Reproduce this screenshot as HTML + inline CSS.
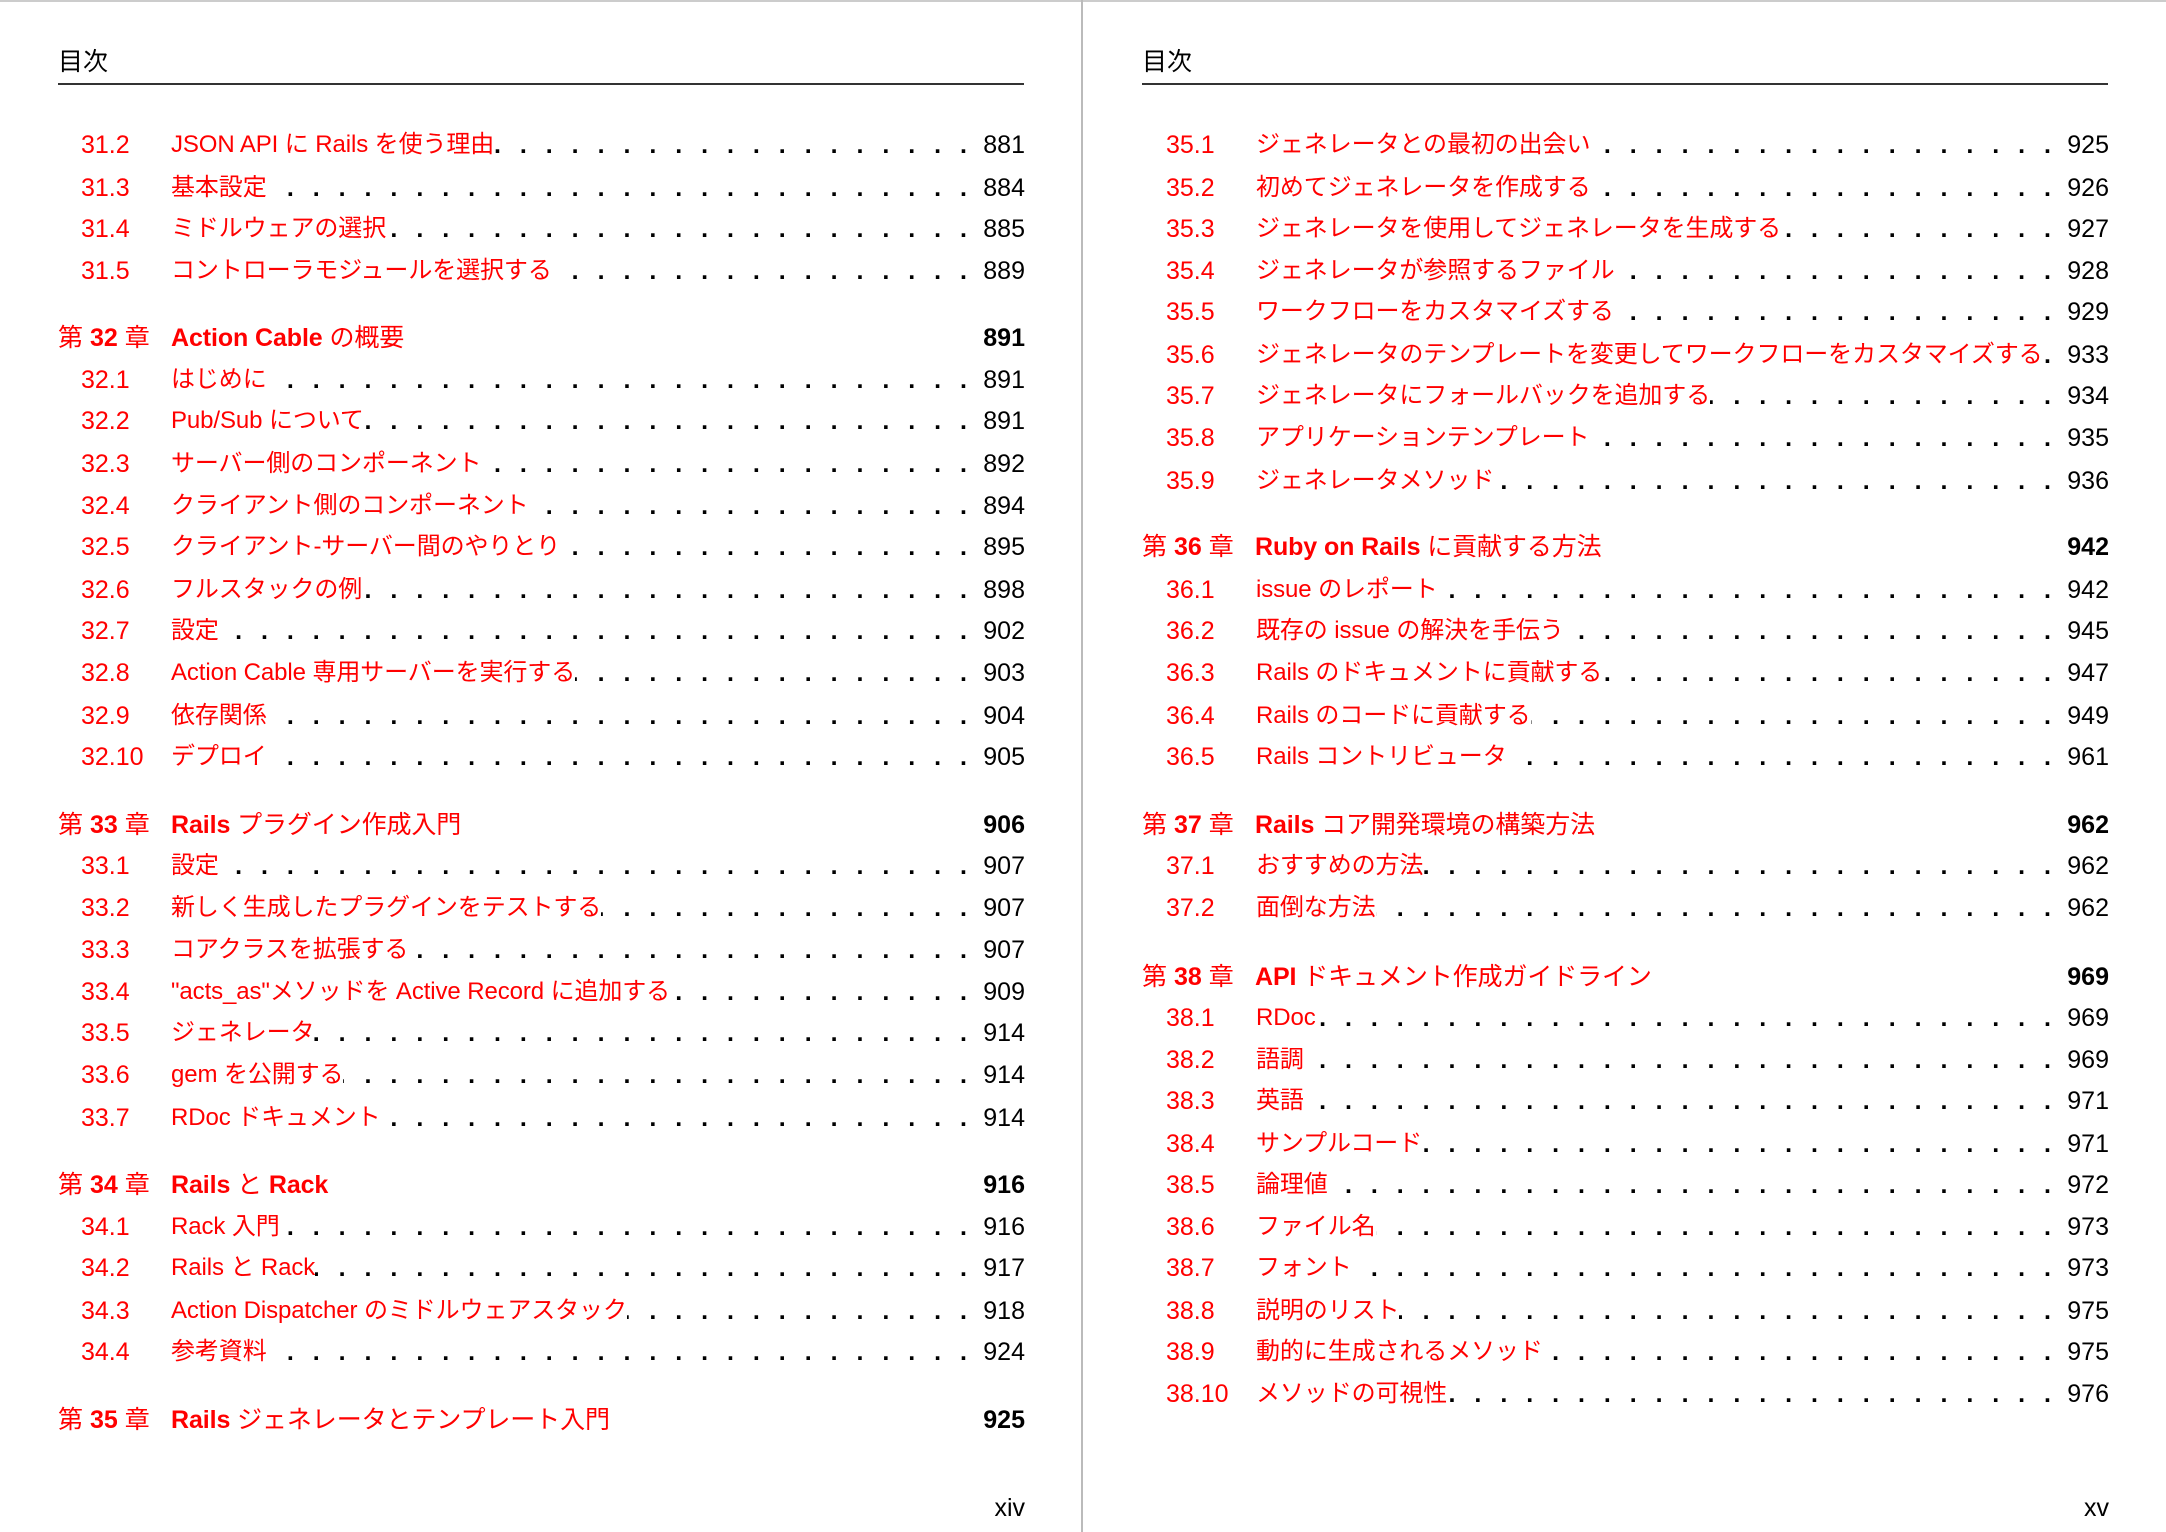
<!DOCTYPE html>
<html><head><meta charset="utf-8"><style>
html,body{margin:0;padding:0;background:#fff;}
body{width:2166px;height:1532px;position:relative;overflow:hidden;font-family:"Liberation Sans","Noto Sans CJK JP",sans-serif;font-size:25px;color:#000;}
.top{position:absolute;left:0;top:0;width:2166px;height:2px;background:#ccc;}
.div{position:absolute;left:1081px;top:0;width:2px;height:1532px;background:#bbb;}
.h{position:absolute;top:45px;line-height:34px;}
.rule{position:absolute;top:83px;height:2px;background:#333;width:966px;}
.f{position:absolute;top:1491px;line-height:34px;text-align:right;width:200px;}
.r{position:absolute;display:flex;height:34px;line-height:34px;white-space:nowrap;}
.L{left:81px;width:944px;} .R{left:1166px;width:943px;}
.CL{left:58px;width:967px;} .CR{left:1142px;width:967px;}
.n{color:#f00;width:90px;flex:none;}
.c{color:#f00;width:113px;flex:none;}
.c b{font-weight:bold;}
.t{color:#f00;flex:none;font-size:24px;letter-spacing:-0.1px;}
.CL .t,.CR .t{font-size:25px;}
.t b{font-weight:bold;}
.d{flex:1;overflow:hidden;direction:rtl;padding-left:14px;font-weight:bold;}
.d::before{content:". . . . . . . . . . . . . . . . . . . . . . . . . . . . . . . . . . . . . . . . . . . . . . . . . . . . . . . . . . . . . . . .";letter-spacing:6px;}
.p{flex:none;width:50px;text-align:right;margin-left:2px;}
.sp{flex:1;}
.pb{flex:none;font-weight:bold;text-align:right;}
</style></head><body>
<div class="top"></div>
<div class="div"></div>
<div class="h" style="left:58px">目次</div>
<div class="h" style="left:1142px">目次</div>
<div class="rule" style="left:58px"></div>
<div class="rule" style="left:1142px"></div>
<div class="f" style="left:825px">xiv</div>
<div class="f" style="left:1909px">xv</div>

<div class="r L" style="top:128px"><span class="n">31.2</span><span class="t">JSON API に Rails を使う理由</span><span class="d"></span><span class="p">881</span></div>
<div class="r L" style="top:171px"><span class="n">31.3</span><span class="t">基本設定</span><span class="d"></span><span class="p">884</span></div>
<div class="r L" style="top:212px"><span class="n">31.4</span><span class="t">ミドルウェアの選択</span><span class="d"></span><span class="p">885</span></div>
<div class="r L" style="top:254px"><span class="n">31.5</span><span class="t">コントローラモジュールを選択する</span><span class="d"></span><span class="p">889</span></div>
<div class="r CL" style="top:321px"><span class="c">第 <b>32</b> 章</span><span class="t"><b>Action Cable</b> の概要</span><span class="sp"></span><span class="pb">891</span></div>
<div class="r L" style="top:363px"><span class="n">32.1</span><span class="t">はじめに</span><span class="d"></span><span class="p">891</span></div>
<div class="r L" style="top:404px"><span class="n">32.2</span><span class="t">Pub/Sub について</span><span class="d"></span><span class="p">891</span></div>
<div class="r L" style="top:447px"><span class="n">32.3</span><span class="t">サーバー側のコンポーネント</span><span class="d"></span><span class="p">892</span></div>
<div class="r L" style="top:489px"><span class="n">32.4</span><span class="t">クライアント側のコンポーネント</span><span class="d"></span><span class="p">894</span></div>
<div class="r L" style="top:530px"><span class="n">32.5</span><span class="t">クライアント-サーバー間のやりとり</span><span class="d"></span><span class="p">895</span></div>
<div class="r L" style="top:573px"><span class="n">32.6</span><span class="t">フルスタックの例</span><span class="d"></span><span class="p">898</span></div>
<div class="r L" style="top:614px"><span class="n">32.7</span><span class="t">設定</span><span class="d"></span><span class="p">902</span></div>
<div class="r L" style="top:656px"><span class="n">32.8</span><span class="t">Action Cable 専用サーバーを実行する</span><span class="d"></span><span class="p">903</span></div>
<div class="r L" style="top:699px"><span class="n">32.9</span><span class="t">依存関係</span><span class="d"></span><span class="p">904</span></div>
<div class="r L" style="top:740px"><span class="n">32.10</span><span class="t">デプロイ</span><span class="d"></span><span class="p">905</span></div>
<div class="r CL" style="top:808px"><span class="c">第 <b>33</b> 章</span><span class="t"><b>Rails</b> プラグイン作成入門</span><span class="sp"></span><span class="pb">906</span></div>
<div class="r L" style="top:849px"><span class="n">33.1</span><span class="t">設定</span><span class="d"></span><span class="p">907</span></div>
<div class="r L" style="top:891px"><span class="n">33.2</span><span class="t">新しく生成したプラグインをテストする</span><span class="d"></span><span class="p">907</span></div>
<div class="r L" style="top:933px"><span class="n">33.3</span><span class="t">コアクラスを拡張する</span><span class="d"></span><span class="p">907</span></div>
<div class="r L" style="top:975px"><span class="n">33.4</span><span class="t">"acts_as"メソッドを Active Record に追加する</span><span class="d"></span><span class="p">909</span></div>
<div class="r L" style="top:1016px"><span class="n">33.5</span><span class="t">ジェネレータ</span><span class="d"></span><span class="p">914</span></div>
<div class="r L" style="top:1058px"><span class="n">33.6</span><span class="t">gem を公開する</span><span class="d"></span><span class="p">914</span></div>
<div class="r L" style="top:1101px"><span class="n">33.7</span><span class="t">RDoc ドキュメント</span><span class="d"></span><span class="p">914</span></div>
<div class="r CL" style="top:1168px"><span class="c">第 <b>34</b> 章</span><span class="t"><b>Rails</b> と <b>Rack</b></span><span class="sp"></span><span class="pb">916</span></div>
<div class="r L" style="top:1210px"><span class="n">34.1</span><span class="t">Rack 入門</span><span class="d"></span><span class="p">916</span></div>
<div class="r L" style="top:1251px"><span class="n">34.2</span><span class="t">Rails と Rack</span><span class="d"></span><span class="p">917</span></div>
<div class="r L" style="top:1294px"><span class="n">34.3</span><span class="t">Action Dispatcher のミドルウェアスタック</span><span class="d"></span><span class="p">918</span></div>
<div class="r L" style="top:1335px"><span class="n">34.4</span><span class="t">参考資料</span><span class="d"></span><span class="p">924</span></div>
<div class="r CL" style="top:1403px"><span class="c">第 <b>35</b> 章</span><span class="t"><b>Rails</b> ジェネレータとテンプレート入門</span><span class="sp"></span><span class="pb">925</span></div>

<div class="r R" style="top:128px"><span class="n">35.1</span><span class="t">ジェネレータとの最初の出会い</span><span class="d"></span><span class="p">925</span></div>
<div class="r R" style="top:171px"><span class="n">35.2</span><span class="t">初めてジェネレータを作成する</span><span class="d"></span><span class="p">926</span></div>
<div class="r R" style="top:212px"><span class="n">35.3</span><span class="t">ジェネレータを使用してジェネレータを生成する</span><span class="d"></span><span class="p">927</span></div>
<div class="r R" style="top:254px"><span class="n">35.4</span><span class="t">ジェネレータが参照するファイル</span><span class="d"></span><span class="p">928</span></div>
<div class="r R" style="top:295px"><span class="n">35.5</span><span class="t">ワークフローをカスタマイズする</span><span class="d"></span><span class="p">929</span></div>
<div class="r R" style="top:338px"><span class="n">35.6</span><span class="t">ジェネレータのテンプレートを変更してワークフローをカスタマイズする</span><span class="d"></span><span class="p">933</span></div>
<div class="r R" style="top:379px"><span class="n">35.7</span><span class="t">ジェネレータにフォールバックを追加する</span><span class="d"></span><span class="p">934</span></div>
<div class="r R" style="top:421px"><span class="n">35.8</span><span class="t">アプリケーションテンプレート</span><span class="d"></span><span class="p">935</span></div>
<div class="r R" style="top:464px"><span class="n">35.9</span><span class="t">ジェネレータメソッド</span><span class="d"></span><span class="p">936</span></div>
<div class="r CR" style="top:530px"><span class="c">第 <b>36</b> 章</span><span class="t"><b>Ruby on Rails</b> に貢献する方法</span><span class="sp"></span><span class="pb">942</span></div>
<div class="r R" style="top:573px"><span class="n">36.1</span><span class="t">issue のレポート</span><span class="d"></span><span class="p">942</span></div>
<div class="r R" style="top:614px"><span class="n">36.2</span><span class="t">既存の issue の解決を手伝う</span><span class="d"></span><span class="p">945</span></div>
<div class="r R" style="top:656px"><span class="n">36.3</span><span class="t">Rails のドキュメントに貢献する</span><span class="d"></span><span class="p">947</span></div>
<div class="r R" style="top:699px"><span class="n">36.4</span><span class="t">Rails のコードに貢献する</span><span class="d"></span><span class="p">949</span></div>
<div class="r R" style="top:740px"><span class="n">36.5</span><span class="t">Rails コントリビュータ</span><span class="d"></span><span class="p">961</span></div>
<div class="r CR" style="top:808px"><span class="c">第 <b>37</b> 章</span><span class="t"><b>Rails</b> コア開発環境の構築方法</span><span class="sp"></span><span class="pb">962</span></div>
<div class="r R" style="top:849px"><span class="n">37.1</span><span class="t">おすすめの方法</span><span class="d"></span><span class="p">962</span></div>
<div class="r R" style="top:891px"><span class="n">37.2</span><span class="t">面倒な方法</span><span class="d"></span><span class="p">962</span></div>
<div class="r CR" style="top:960px"><span class="c">第 <b>38</b> 章</span><span class="t"><b>API</b> ドキュメント作成ガイドライン</span><span class="sp"></span><span class="pb">969</span></div>
<div class="r R" style="top:1001px"><span class="n">38.1</span><span class="t">RDoc</span><span class="d"></span><span class="p">969</span></div>
<div class="r R" style="top:1043px"><span class="n">38.2</span><span class="t">語調</span><span class="d"></span><span class="p">969</span></div>
<div class="r R" style="top:1084px"><span class="n">38.3</span><span class="t">英語</span><span class="d"></span><span class="p">971</span></div>
<div class="r R" style="top:1127px"><span class="n">38.4</span><span class="t">サンプルコード</span><span class="d"></span><span class="p">971</span></div>
<div class="r R" style="top:1168px"><span class="n">38.5</span><span class="t">論理値</span><span class="d"></span><span class="p">972</span></div>
<div class="r R" style="top:1210px"><span class="n">38.6</span><span class="t">ファイル名</span><span class="d"></span><span class="p">973</span></div>
<div class="r R" style="top:1251px"><span class="n">38.7</span><span class="t">フォント</span><span class="d"></span><span class="p">973</span></div>
<div class="r R" style="top:1294px"><span class="n">38.8</span><span class="t">説明のリスト</span><span class="d"></span><span class="p">975</span></div>
<div class="r R" style="top:1335px"><span class="n">38.9</span><span class="t">動的に生成されるメソッド</span><span class="d"></span><span class="p">975</span></div>
<div class="r R" style="top:1377px"><span class="n">38.10</span><span class="t">メソッドの可視性</span><span class="d"></span><span class="p">976</span></div>
</body></html>
